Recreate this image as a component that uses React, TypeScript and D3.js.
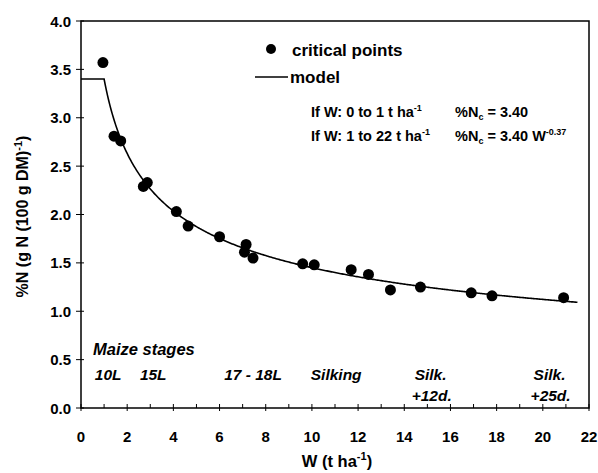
import React from "react";
import * as d3 from "d3";

const pointW = [0.95, 1.43, 1.72, 2.7, 2.87, 4.13, 4.64, 6.0, 7.15, 7.08, 7.45, 9.6, 10.1, 11.7, 12.45, 13.4, 14.7, 16.9, 17.8, 20.9];
const pointN = [3.57, 2.81, 2.76, 2.29, 2.33, 2.03, 1.88, 1.77, 1.69, 1.61, 1.55, 1.49, 1.48, 1.43, 1.38, 1.22, 1.25, 1.19, 1.16, 1.14];
const xTicks = [0, 2, 4, 6, 8, 10, 12, 14, 16, 18, 20, 22];
const yTicks = [0, 0.5, 1.0, 1.5, 2.0, 2.5, 3.0, 3.5, 4.0];
const stageLabels = ["10L", "15L", "17 - 18L", "Silking", "Silk.", "Silk."];
const stageSub = ["", "", "", "", "+12d.", "+25d."];
const stageX = [0.6, 2.55, 6.2, 9.95, 14.45, 19.6];
const modelA = 3.4;
const modelB = 0.37;
const modelMaxW = 21.5;

const W = 598, H = 473;
const L = 81, R = 589, T = 21, B = 408;
const font = "'Liberation Sans', Arial, Helvetica, sans-serif";

export default function App() {
  const x = d3.scaleLinear().domain([0, 22]).range([L, R]);
  const y = d3.scaleLinear().domain([0, 4]).range([B, T]);
  const modelPts: [number, number][] = [];
  for (let w = 0; w <= modelMaxW + 1e-9; w += 0.05) {
    modelPts.push([w, w <= 1 ? modelA : modelA * Math.pow(w, -modelB)]);
  }
  const line = d3.line<[number, number]>().x(d => x(d[0])).y(d => y(d[1]));
  const minor = d3.range(0, 23, 1);
  return (
    <svg width={W} height={H} style={{ position: "absolute", left: 0, top: 0, background: "#fff" }}>
      <rect x={L} y={T} width={R - L} height={B - T} fill="none" stroke="#000" strokeWidth={1.5} />
      {yTicks.map(v => (
        <g key={"y" + v}>
          <line x1={L - 5} x2={L + 3} y1={y(v)} y2={y(v)} stroke="#000" strokeWidth={1} />
          <text x={L - 10} y={y(v) + 5.5} textAnchor="end" fontFamily={font} fontWeight="bold" fontSize={15}>{v.toFixed(1)}</text>
        </g>
      ))}
      {minor.map(v => (
        <line key={"m" + v} x1={x(v)} x2={x(v)} y1={B - 4} y2={B + (v % 2 === 0 ? 3 : 0)} stroke="#000" strokeWidth={1} />
      ))}
      {xTicks.map(v => (
        <text key={"x" + v} x={x(v)} y={B + 34} textAnchor="middle" fontFamily={font} fontWeight="bold" fontSize={15}>{v}</text>
      ))}
      <text x={337} y={467} textAnchor="middle" fontFamily={font} fontWeight="bold" fontSize={16.5}>
        W (t ha<tspan dy={-7} fontSize={11}>-1</tspan><tspan dy={7}>)</tspan>
      </text>
      <text transform={`translate(28,${(T + B) / 2 + 2}) rotate(-90)`} textAnchor="middle" fontFamily={font} fontWeight="bold" fontSize={16}>
        %N (g N (100 g DM)<tspan dy={-6} fontSize={11}>-1</tspan><tspan dy={6}>)</tspan>
      </text>
      <path d={line(modelPts) || ""} fill="none" stroke="#000" strokeWidth={1.6} />
      {pointW.map((w, i) => (
        <circle key={"p" + i} cx={x(w)} cy={y(pointN[i])} r={5.5} fill="#000" />
      ))}
      <circle cx={271} cy={49} r={5} fill="#000" />
      <text x={292} y={56} fontFamily={font} fontWeight="bold" fontSize={17}>critical points</text>
      <line x1={255} x2={288} y1={77} y2={77} stroke="#000" strokeWidth={1.6} />
      <text x={290} y={83} fontFamily={font} fontWeight="bold" fontSize={17}>model</text>
      <text x={311} y={117} fontFamily={font} fontWeight="bold" fontSize={14.5}>
        If W: 0 to 1 t ha<tspan dy={-6} fontSize={9}>-1</tspan>
      </text>
      <text x={455} y={117} fontFamily={font} fontWeight="bold" fontSize={14.5}>
        %N<tspan dy={3} fontSize={9}>c</tspan><tspan dy={-3}> = 3.40</tspan>
      </text>
      <text x={311} y={141} fontFamily={font} fontWeight="bold" fontSize={14.5}>
        If W: 1 to 22 t ha<tspan dy={-6} fontSize={9}>-1</tspan>
      </text>
      <text x={455} y={141} fontFamily={font} fontWeight="bold" fontSize={14.5}>
        %N<tspan dy={3} fontSize={9}>c</tspan><tspan dy={-3}> = 3.40 W</tspan><tspan dy={-6} fontSize={9}>-0.37</tspan>
      </text>
      <text x={93} y={355} fontFamily={font} fontWeight="bold" fontStyle="italic" fontSize={16.5}>Maize stages</text>
      {stageLabels.map((s, i) => (
        <g key={"s" + i}>
          <text x={x(stageX[i])} y={380} fontFamily={font} fontWeight="bold" fontStyle="italic" fontSize={15.5}>{s}</text>
          {stageSub[i] && (
            <text x={x(stageX[i]) - 3} y={401} fontFamily={font} fontWeight="bold" fontStyle="italic" fontSize={15.5}>{stageSub[i]}</text>
          )}
        </g>
      ))}
    </svg>
  );
}
